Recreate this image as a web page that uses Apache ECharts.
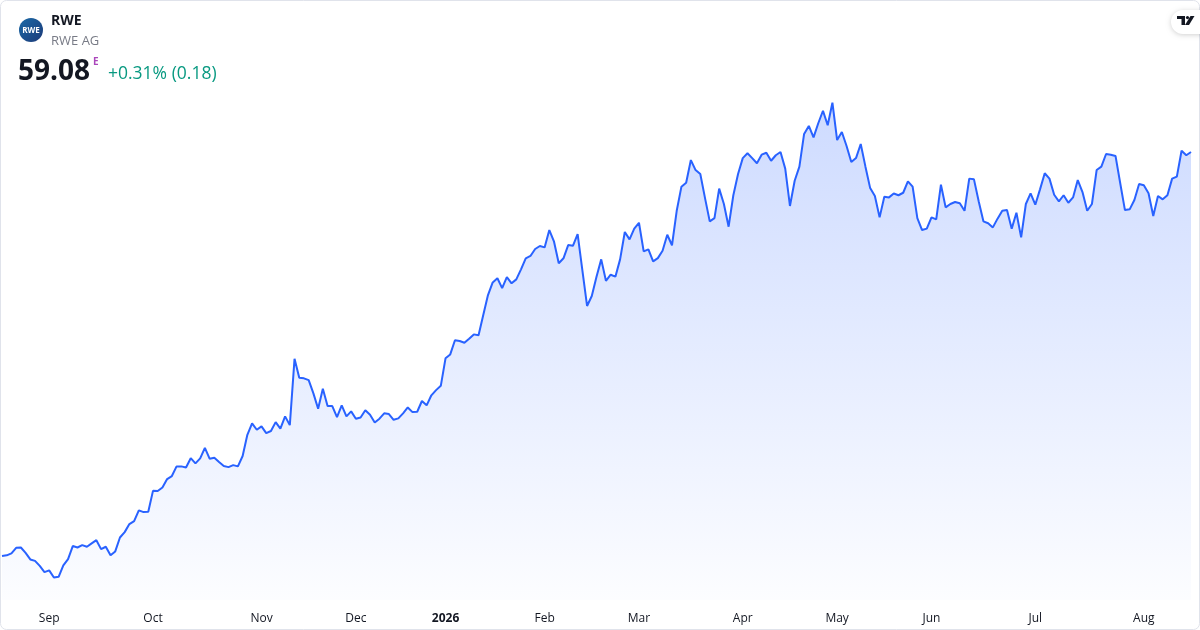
<!DOCTYPE html>
<html>
<head>
<meta charset="utf-8">
<script src="https://cdn.jsdelivr.net/npm/echarts@6/dist/echarts.min.js"></script>
<style>
html,body{margin:0;padding:0;background:#fff;}
#c{width:1200px;height:630px;}
</style>
</head>
<body>
<div id="c"></div>
<script>
const prices = [
36.46,36.50,36.61,36.92,36.94,36.64,36.27,36.19,35.91,35.56,
35.66,35.26,35.30,35.94,36.29,37.02,36.94,37.07,36.98,37.17,
37.35,36.85,36.98,36.50,36.72,37.50,37.80,38.25,38.42,39.02,
38.92,38.94,40.11,40.10,40.30,40.77,40.94,41.48,41.48,41.42,
41.94,41.65,41.93,42.52,41.91,41.96,41.72,41.50,41.44,41.55,
41.48,42.06,43.25,43.89,43.53,43.72,43.34,43.46,43.96,43.59,
44.28,43.79,47.50,46.44,46.41,46.31,45.57,44.71,45.83,44.86,
44.86,44.24,44.90,44.28,44.56,44.15,44.22,44.62,44.37,43.94,
44.15,44.45,44.41,44.09,44.17,44.45,44.78,44.52,44.54,45.14,
44.90,45.46,45.75,45.99,47.53,47.75,48.54,48.50,48.40,48.63,
48.87,48.82,49.95,51.07,51.78,52.01,51.46,52.08,51.73,51.95,
52.51,53.13,53.26,53.65,53.82,53.74,54.71,54.06,52.85,53.13,
53.87,53.83,54.49,52.47,50.46,51.02,52.10,53.07,51.87,52.21,
52.10,53.07,54.60,54.19,54.79,55.12,53.52,53.63,52.96,53.14,
53.55,54.45,53.86,55.79,57.14,57.36,58.63,58.07,57.85,56.50,
55.20,55.38,57.03,56.17,54.90,56.66,57.85,58.74,59.01,58.74,
58.45,58.93,59.04,58.59,58.90,59.08,58.15,56.06,57.47,58.26,
60.09,60.54,59.90,60.69,61.39,60.58,61.84,59.75,60.20,59.42,
58.52,58.74,59.53,58.26,57.06,56.62,55.42,56.58,56.54,56.76,
56.66,56.80,57.44,57.14,55.38,54.71,54.79,55.42,55.31,57.25,
55.98,56.17,56.28,56.21,55.79,57.59,57.55,56.32,55.20,55.09,
54.86,55.35,55.79,55.83,54.79,55.68,54.30,56.17,56.77,56.13,
56.99,57.89,57.59,56.69,56.32,56.66,56.24,56.54,57.51,56.84,
55.79,56.17,58.07,58.26,58.97,58.93,58.86,57.33,55.83,55.87,
56.39,57.29,57.22,56.77,55.50,56.62,56.43,56.66,57.59,57.70,
59.15,58.90,59.08
];
const monthIndex = [10,32,55,75,94,115,135,157,177,197,219,242];
const monthLabels = ['Sep','Oct','Nov','Dec','2026','Feb','Mar','Apr','May','Jun','Jul','Aug'];
const boldLabels = ['2026'];

const categories = prices.map((_, i) => i);
const labelAt = {};
monthIndex.forEach((idx, k) => { labelAt[idx] = monthLabels[k]; });

const chart = echarts.init(document.getElementById('c'), null, {renderer:'canvas'});
const FONT = '"Open Sans", "Noto Sans", sans-serif';

chart.setOption({
  animation:false,
  backgroundColor:'#ffffff',
  grid:{left:2, right:9, top:82, bottom:30},
  xAxis:{
    type:'category',
    data:categories,
    boundaryGap:false,
    axisLine:{show:false},
    axisTick:{show:false},
    splitLine:{show:false},
    axisLabel:{
      interval:(i)=> labelAt[i] !== undefined,
      formatter:(v, i)=>{
        const t = labelAt[i];
        if (t === undefined) return '';
        return boldLabels.includes(t) ? '{b|' + t + '}' : t;
      },
      color:'#131722',
      fontFamily:FONT,
      fontSize:12,
      margin:13,
      rich:{b:{fontWeight:'bold', color:'#131722', fontFamily:FONT, fontSize:12}}
    }
  },
  yAxis:{
    type:'value',
    min:34,
    max:63,
    show:false,
    splitLine:{show:false}
  },
  series:[{
    type:'line',
    data:prices,
    showSymbol:false,
    smooth:false,
    lineStyle:{color:'#2962FF', width:2},
    itemStyle:{color:'#2962FF'},
    areaStyle:{
      color:new echarts.graphic.LinearGradient(0,0,0,1,[
        {offset:0, color:'rgba(41,98,255,0.33)'},
        {offset:1, color:'rgba(41,98,255,0.02)'}
      ])
    }
  }],
  graphic:[
    {type:'rect', shape:{x:0.5, y:0.5, width:1199, height:629, r:6}, style:{fill:'none', stroke:'#e0e3eb', lineWidth:1}, z:100},
    {type:'circle', shape:{cx:31, cy:30, r:12}, style:{fill:new echarts.graphic.LinearGradient(0,0,1,1,[{offset:0,color:'#1a6aa8'},{offset:1,color:'#1d3a78'}])}, z:100},
    {type:'text', x:31, y:30.5, style:{text:'RWE', fill:'#ffffff', font:'bold 8px "Open Sans", sans-serif', align:'center', verticalAlign:'middle'}, z:101},
    {type:'text', x:51, y:21, style:{text:'RWE', fill:'#131722', font:'bold 14px "Open Sans", sans-serif', verticalAlign:'middle'}, z:100},
    {type:'text', x:51, y:41, style:{text:'RWE AG', fill:'#787b86', font:'13px "Open Sans", sans-serif', verticalAlign:'middle'}, z:100},
    {type:'text', x:18, y:72, style:{text:'59.08', fill:'#131722', font:'bold 28px "Open Sans", sans-serif', verticalAlign:'middle'}, z:100},
    {type:'text', x:93, y:62, style:{text:'E', fill:'#ab47bc', font:'bold 10px "Open Sans", sans-serif', verticalAlign:'middle'}, z:100},
    {type:'text', x:108, y:74, style:{text:'+0.31% (0.18)', fill:'#089981', font:'17.5px "Open Sans", sans-serif', verticalAlign:'middle'}, z:100},
    {type:'rect', shape:{x:1171, y:10, width:40, height:24, r:12}, style:{fill:'#ffffff', shadowBlur:5, shadowColor:'rgba(0,0,0,0.18)', shadowOffsetY:1}, z:100},
    {type:'polygon', shape:{points:[[1177,16],[1185,16],[1185,25],[1181.5,25],[1181.5,19],[1177,19]]}, style:{fill:'#131722'}, z:101},
    {type:'circle', shape:{cx:1187.5, cy:17.6, r:1.6}, style:{fill:'#131722'}, z:101},
    {type:'polygon', shape:{points:[[1190.5,16],[1194.5,16],[1189,25],[1185,25]]}, style:{fill:'#131722'}, z:101}
  ]
});
</script>
</body>
</html>
